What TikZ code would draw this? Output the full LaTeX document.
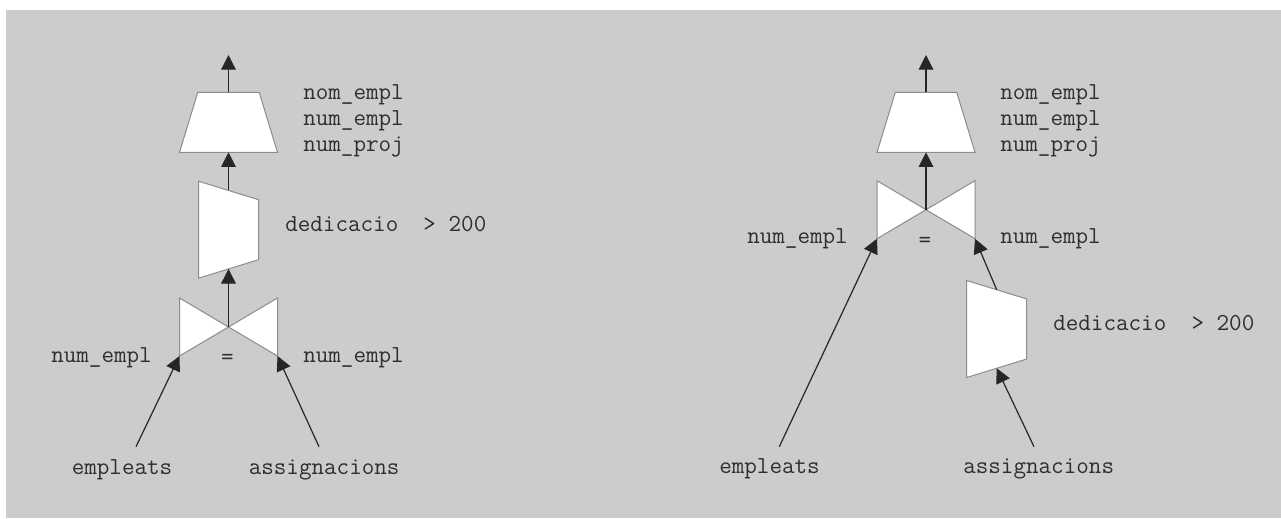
\documentclass[tikz,border=0pt]{standalone}
\usepackage{fontspec}
\usetikzlibrary{arrows.meta}
\definecolor{panel}{HTML}{CCCCCC}
\definecolor{ink}{HTML}{2E2E2E}
\definecolor{edge}{HTML}{8C8C8C}
\tikzset{
  lbl/.style={anchor=mid west, inner sep=0pt, font=\ttfamily\fontsize{18.3}{22}\selectfont, text=ink},
  eqlbl/.style={lbl, anchor=mid},
  flow/.style={draw=black!85, line width=0.9pt, -{Triangle[length=11pt,width=11pt]}},
  opshape/.style={draw=edge, fill=white, line width=0.75pt, line join=miter},
  % projection operator: trapezium wider at the bottom
  projection/.pic={
    \path[opshape] (-30.7,-30) -- (30.7,-30) -- (49,30) -- (-49,30) -- cycle;
    \coordinate (-top) at (0,-30);
    \coordinate (-bot) at (0,30);
  },
  % selection operator: slanted quadrilateral
  selection/.pic={
    \path[opshape] (-30,-48.5) -- (30,-30) -- (30,30) -- (-30,48.5) -- cycle;
    \coordinate (-top) at (0,-39.25);
    \coordinate (-bot) at (0,39.25);
  },
  % join operator: bow tie
  joinop/.pic={
    \path[opshape] (-49,-29) -- (0,0) -- (-49,29) -- cycle;
    \path[opshape] (49,-29) -- (0,0) -- (49,29) -- cycle;
    \coordinate (-c) at (0,0);
    \coordinate (-bl) at (-49,29);
    \coordinate (-br) at (49,29);
  }
}
\begin{document}
\begin{tikzpicture}[x=0.75pt, y=-0.75pt]
  \useasboundingbox (0,0) rectangle (1281,518);
  \fill[white] (0,0) rectangle (1281,518);
  \fill[panel] (6,10) rectangle (1281,518);

  % ---------------- left plan: join, then selection, then projection
  \pic (pA) at (228.5,122.3) {projection};
  \pic (sA) at (228.5,229.7) {selection};
  \pic (jA) at (228.5,327) {joinop};

  \coordinate (outA) at (228.5,55);
  \coordinate (inA1) at (136,446.7);
  \coordinate (inA2) at (319,446.7);

  \draw[flow] (pA-top) -- (outA);
  \draw[flow] (sA-top) -- (pA-bot);
  \draw[flow] (jA-c) -- (sA-bot);
  \draw[flow] (inA1) -- (jA-bl);
  \draw[flow] (inA2) -- (jA-br);

  \node[lbl] (pA1) at (303,97) {nom\_empl};
  \node[lbl] (pA2) at (303,123) {num\_empl};
  \node[lbl] (pA3) at (303,149) {num\_proj};
  \node[lbl] (sAc) at (285,229) {dedicacio\ \ > 200};
  \node[lbl] (jAl) at (51,360) {num\_empl};
  \node[eqlbl] (jAe) at (227.5,362) {=};
  \node[lbl] (jAr) at (303,360) {num\_empl};
  \node[lbl] (tA1) at (71.5,472) {empleats};
  \node[lbl] (tA2) at (248.5,472) {assignacions};

  % ---------------- right plan: selection pushed below the join
  \pic (pB) at (926,122.3) {projection};
  \pic (jB) at (926,209.7) {joinop};
  \pic (sB) at (996.7,329) {selection};

  \coordinate (outB) at (926,55);
  \coordinate (inB1) at (779.3,446.7);
  \coordinate (inB2) at (1034,446.7);

  \draw[flow] (pB-top) -- (outB);
  \draw[flow] (jB-c) -- (pB-bot);
  \draw[flow] (inB1) -- (jB-bl);
  \draw[flow] (sB-top) -- (jB-br);
  \draw[flow] (inB2) -- (sB-bot);

  \node[lbl] (pB1) at (1000,97) {nom\_empl};
  \node[lbl] (pB2) at (1000,123) {num\_empl};
  \node[lbl] (pB3) at (1000,149) {num\_proj};
  \node[lbl] (jBl) at (747,241) {num\_empl};
  \node[eqlbl] (jBe) at (925,245) {=};
  \node[lbl] (jBr) at (1000,241) {num\_empl};
  \node[lbl] (sBc) at (1053,328) {dedicacio\ \ > 200};
  \node[lbl] (tB1) at (719,471) {empleats};
  \node[lbl] (tB2) at (963,471) {assignacions};
\end{tikzpicture}
\end{document}
